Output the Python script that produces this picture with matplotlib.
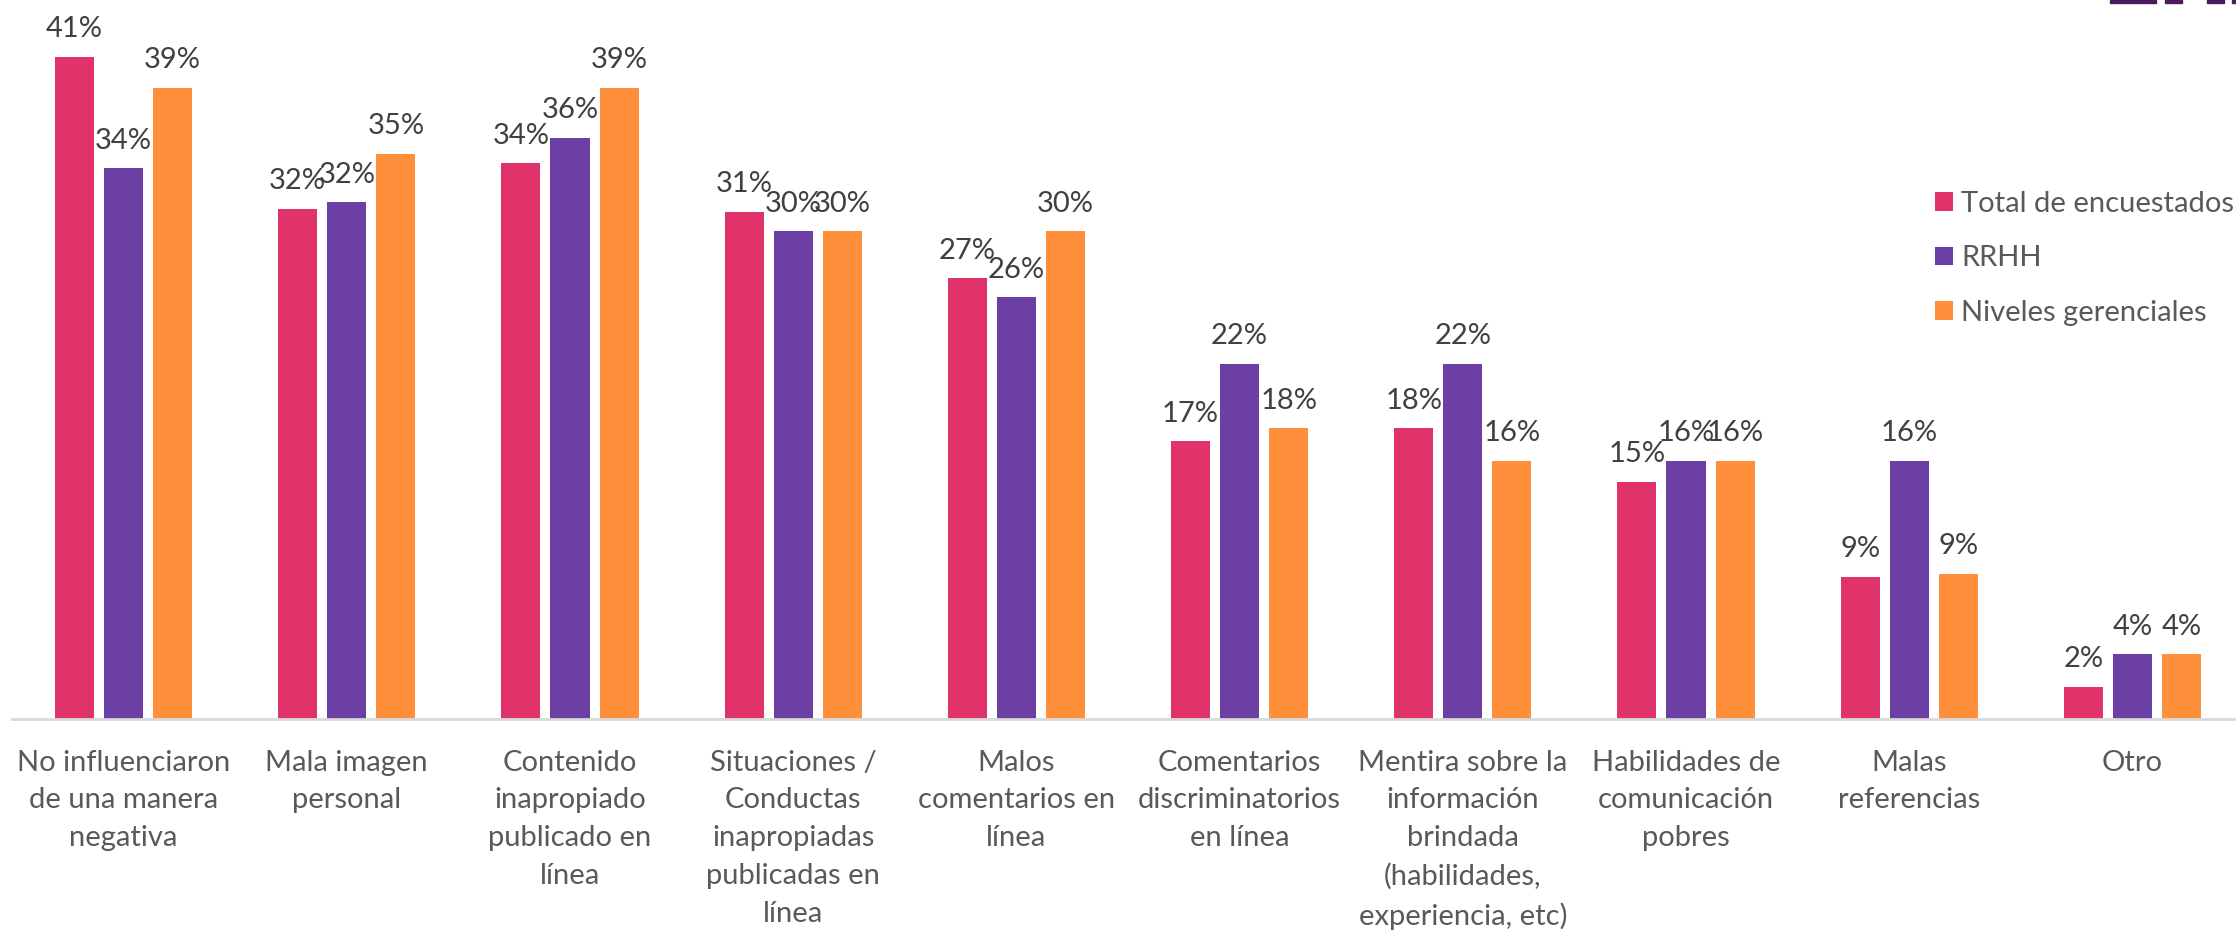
import numpy as np
import matplotlib
matplotlib.use('Agg')
import matplotlib.pyplot as plt
from matplotlib.patches import Rectangle

plt.rcParams['font.family'] = ['Lato', 'DejaVu Sans']

# Data
categories = ['No influenciaron\nde una manera\nnegativa',
              'Mala imagen\npersonal',
              'Contenido\ninapropiado\npublicado en\nlínea',
              'Situaciones /\nConductas\ninapropiadas\npublicadas en\nlínea',
              'Malos\ncomentarios en\nlínea',
              'Comentarios\ndiscriminatorios\nen línea',
              'Mentira sobre la\ninformación\nbrindada\n(habilidades,\nexperiencia, etc)',
              'Habilidades de\ncomunicación\npobres',
              'Malas\nreferencias',
              'Otro']
series = ['Total de encuestados', 'RRHH', 'Niveles gerenciales']
total = [41.0, 31.6, 34.4, 31.4, 27.3, 17.2, 18.0, 14.7, 8.8, 2.0]
rrhh = [34.1, 32.0, 36.0, 30.2, 26.1, 22.0, 22.0, 16.0, 16.0, 4.0]
gerencia = [39.1, 35.0, 39.1, 30.2, 30.2, 18.0, 16.0, 16.0, 9.0, 4.0]
colors = ['#E0336A', '#6C3FA5', '#FF8F3B']

W, H = 2236, 930
fig = plt.figure(figsize=(W / 100, H / 100), dpi=100)
# axes: baseline at y=719 px, left edge at x=12 px
ax = fig.add_axes([12 / W, (H - 719) / H, (2244 - 12) / W, 719 / H])

x = np.arange(len(categories))
width = 0.175
step = 0.22
for i, (vals, lab, c) in enumerate(zip([total, rrhh, gerencia], series, colors)):
    ax.bar(x + (i - 1) * step, vals, width, color=c, label=lab)
    for xi, v in zip(x + (i - 1) * step, vals):
        ax.annotate('%d%%' % round(v), (xi, v), xytext=(0, 14), textcoords='offset points',
                    ha='center', va='baseline', fontsize=21, color='#404040')

ax.set_xlim(-0.5, 9.5)
ax.set_ylim(0, 44.52)
ax.set_yticks([])
ax.set_xticks(x)
ax.set_xticklabels(categories, fontsize=21, color='#595959', linespacing=1.56)
ax.tick_params(axis='x', length=0, pad=22)
for s in ['top', 'right', 'left']:
    ax.spines[s].set_visible(False)
ax.spines['bottom'].set_color('#D9D9D9')
ax.spines['bottom'].set_linewidth(2)

ax.legend(loc='upper left', bbox_to_anchor=(1935 / W, 1 - 191 / H), bbox_transform=fig.transFigure,
          frameon=False, fontsize=21, labelcolor='#595959', handlelength=0.6, handleheight=0.6,
          handletextpad=0.3, labelspacing=0.97, borderpad=0, borderaxespad=0)

# cut-off logo fragment at the top right
for x0, x1 in [(2110, 2156), (2165, 2182), (2207, 2224), (2232, 2236)]:
    fig.patches.append(Rectangle((x0 / W, 1 - 3 / H), (x1 - x0) / W, 3 / H,
                                 transform=fig.transFigure, color='#4B1A5E'))

fig.savefig('out.png', dpi=100)
